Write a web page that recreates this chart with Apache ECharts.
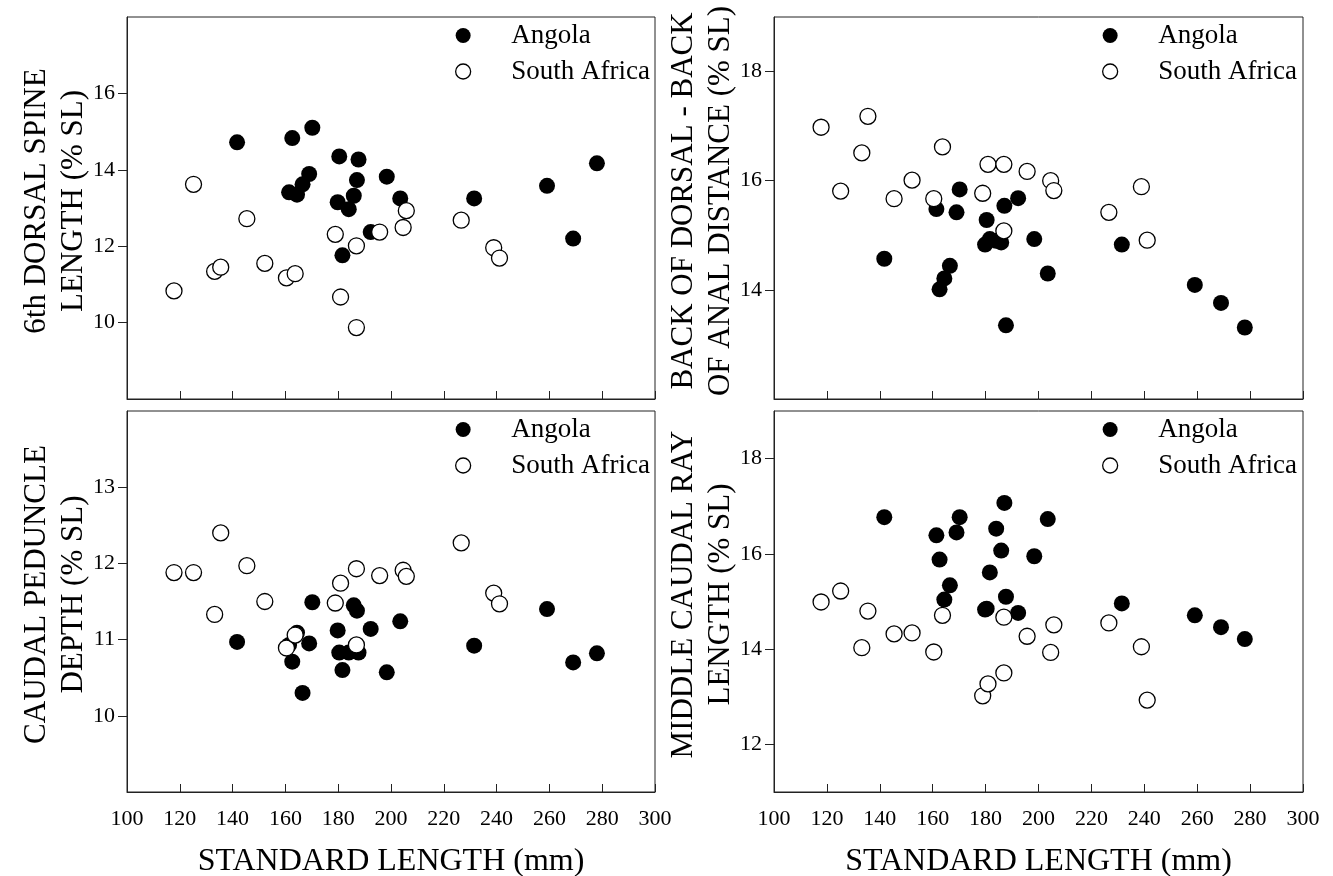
<!DOCTYPE html>
<html>
<head>
<meta charset="utf-8">
<script src="https://cdn.jsdelivr.net/npm/echarts@6/dist/echarts.min.js"></script>
<style>
html,body{margin:0;padding:0;background:#ffffff;}
#chart{width:1333px;height:876px;}
</style>
</head>
<body>
<div id="chart"></div>
<script>
// ---------------- DATA ----------------
const seriesNames = ['Angola', 'South Africa'];
const xTitle = 'STANDARD LENGTH (mm)';

// Standard length (mm) of each fish
const angolaSL = [141.7, 161.4, 162.6, 164.4, 166.5, 169.0, 170.2, 179.8, 180.4, 181.6, 184.0,
                  185.9, 187.1, 187.7, 192.3, 198.4, 203.5, 231.5, 259.1, 269.0, 278.0];
const southAfricaSL = [117.8, 125.2, 133.2, 135.5, 145.4, 152.2, 160.4, 163.7, 178.9, 180.9,
                       186.9, 186.9, 195.7, 204.6, 205.8, 226.6, 238.9, 241.1];

// Panel 1: 6th dorsal spine length (% SL)
const angolaDorsalSpine = [14.72, 13.41, 14.83, 13.35, 13.62, 13.89, 15.10, 13.15, 14.35, 11.76, 12.97,
                           13.32, 13.73, 14.27, 12.37, 13.82, 13.25, 13.25, 13.58, 12.20, 14.17];
const southAfricaDorsalSpine = [10.83, 13.62, 11.34, 11.45, 12.72, 11.55, 11.17, 11.28, 12.31, 10.67,
                                12.01, 9.87, 12.37, 12.49, 12.93, 12.68, 11.96, 11.69];

// Panel 2: back of dorsal - back of anal distance (% SL)
const angolaDorsalAnal = [14.57, 15.48, 14.01, 14.21, 14.44, 15.42, 15.84, 14.83, 15.28, 14.93, 14.90,
                          14.87, 15.54, 13.35, 15.68, 14.93, 14.30, 14.83, 14.09, 13.76, 13.31];
const southAfricaDorsalAnal = [16.98, 15.81, 16.51, 17.18, 15.67, 16.01, 15.67, 16.62, 15.77, 16.30,
                               16.30, 15.08, 16.17, 16.00, 15.82, 15.42, 15.89, 14.91];

// Panel 3: caudal peduncle depth (% SL)
const angolaPeduncle = [10.97, 10.93, 10.71, 11.09, 10.30, 10.95, 11.49, 11.12, 10.83, 10.60, 10.83,
                        11.45, 11.38, 10.83, 11.14, 10.57, 11.24, 10.92, 11.40, 10.70, 10.82];
const southAfricaPeduncle = [11.88, 11.88, 11.33, 12.40, 11.97, 11.50, 10.89, 11.06, 11.48, 11.74,
                             11.93, 10.93, 11.84, 11.91, 11.83, 12.27, 11.61, 11.47];

// Panel 4: middle caudal ray length (% SL)
const angolaCaudalRay = [16.77, 16.39, 15.88, 15.04, 15.34, 16.45, 16.77, 14.83, 14.85, 15.61, 16.53,
                         16.07, 17.07, 15.10, 14.76, 15.95, 16.73, 14.96, 14.71, 14.46, 14.21];
const southAfricaCaudalRay = [14.99, 15.22, 14.03, 14.80, 14.32, 14.34, 13.94, 14.71, 13.02, 13.27,
                              14.67, 13.50, 14.27, 13.93, 14.51, 14.55, 14.05, 12.93];

// Axis ranges and tick labels
const xRange = [100, 300];
const xInterval = 20;
const yTitles = ['6th DORSAL SPINE\nLENGTH (% SL)', 'BACK OF DORSAL - BACK\nOF ANAL DISTANCE (% SL)',
                 'CAUDAL PEDUNCLE\nDEPTH (% SL)', 'MIDDLE CAUDAL RAY\nLENGTH (% SL)'];
const yRanges = [[8, 18], [12, 19], [9, 14], [11, 19]];
const yTickLabels = [[10, 12, 14, 16], [14, 16, 18], [10, 11, 12, 13], [12, 14, 16, 18]];

const panelAngola = [angolaDorsalSpine, angolaDorsalAnal, angolaPeduncle, angolaCaudalRay];
const panelSouthAfrica = [southAfricaDorsalSpine, southAfricaDorsalAnal, southAfricaPeduncle, southAfricaCaudalRay];

// ---------------- LAYOUT / STYLE ----------------
const FONT = '"Liberation Serif", "Times New Roman", serif';
const grids = [
  {left: 127, top: 17, width: 528, height: 382},
  {left: 774, top: 17, width: 529, height: 382},
  {left: 127, top: 411, width: 528, height: 381},
  {left: 774, top: 411, width: 529, height: 381}
];
const axisColor = '#222';

const option = {
  backgroundColor: '#ffffff',
  animation: false,
  grid: grids.map(g => Object.assign({show: true, borderColor: axisColor, borderWidth: 1,
    backgroundColor: 'transparent', containLabel: false, outerBoundsMode: 'none'}, g)),
  xAxis: grids.map((g, i) => ({
    type: 'value', gridIndex: i, min: xRange[0], max: xRange[1], interval: xInterval,
    axisLine: {show: true, lineStyle: {color: axisColor, width: 1}},
    axisTick: {show: true, inside: true, length: 8, lineStyle: {color: axisColor}},
    axisLabel: {show: i >= 2, fontFamily: FONT, fontSize: 22, color: '#000', margin: 16},
    splitLine: {show: false},
    name: i >= 2 ? xTitle : '',
    nameLocation: 'middle', nameGap: 54,
    nameTextStyle: {fontFamily: FONT, fontSize: 32, color: '#000'}
  })),
  yAxis: grids.map((g, i) => ({
    type: 'value', gridIndex: i, min: yRanges[i][0], max: yRanges[i][1],
    axisLine: {show: true, lineStyle: {color: axisColor, width: 1}},
    axisTick: {show: true, inside: false, length: 9, lineStyle: {color: axisColor}, customValues: yTickLabels[i]},
    axisLabel: {show: true, fontFamily: FONT, fontSize: 22, color: '#000', margin: 12, customValues: yTickLabels[i]},
    splitLine: {show: false}
  })),
  legend: grids.map(g => ({
    orient: 'vertical', left: g.left + 328, top: g.top + 5, padding: 0,
    itemWidth: 86, itemHeight: 15, itemGap: 9,
    textStyle: {fontFamily: FONT, fontSize: 27, color: '#000', lineHeight: 26},
    selectedMode: false,
    data: [
      {name: seriesNames[0], icon: 'circle', itemStyle: {color: '#000', borderColor: '#000', borderWidth: 0}},
      {name: seriesNames[1], icon: 'circle', itemStyle: {color: '#fff', borderColor: '#000', borderWidth: 1.3}}
    ]
  })),
  graphic: grids.map((g, i) => ({
    type: 'text',
    x: g.left - 72, y: g.top + g.height / 2 - 7,
    rotation: Math.PI / 2,
    style: {text: yTitles[i], fontFamily: FONT, fontSize: 31, fill: '#000', align: 'center', verticalAlign: 'middle', lineHeight: 37}
  })),
  series: []
};

for (let i = 0; i < 4; i++) {
  option.series.push({
    name: seriesNames[0], type: 'scatter', xAxisIndex: i, yAxisIndex: i,
    symbol: 'circle', symbolSize: 16,
    itemStyle: {color: '#000', borderColor: '#000', borderWidth: 0, opacity: 1},
    data: angolaSL.map((x, k) => [x, panelAngola[i][k]])
  });
  option.series.push({
    name: seriesNames[1], type: 'scatter', xAxisIndex: i, yAxisIndex: i,
    symbol: 'circle', symbolSize: 16,
    itemStyle: {color: '#fff', borderColor: '#000', borderWidth: 1.3, opacity: 1},
    data: southAfricaSL.map((x, k) => [x, panelSouthAfrica[i][k]])
  });
}

const chart = echarts.init(document.getElementById('chart'), null, {renderer: 'canvas'});
chart.setOption(option);
</script>
</body>
</html>
